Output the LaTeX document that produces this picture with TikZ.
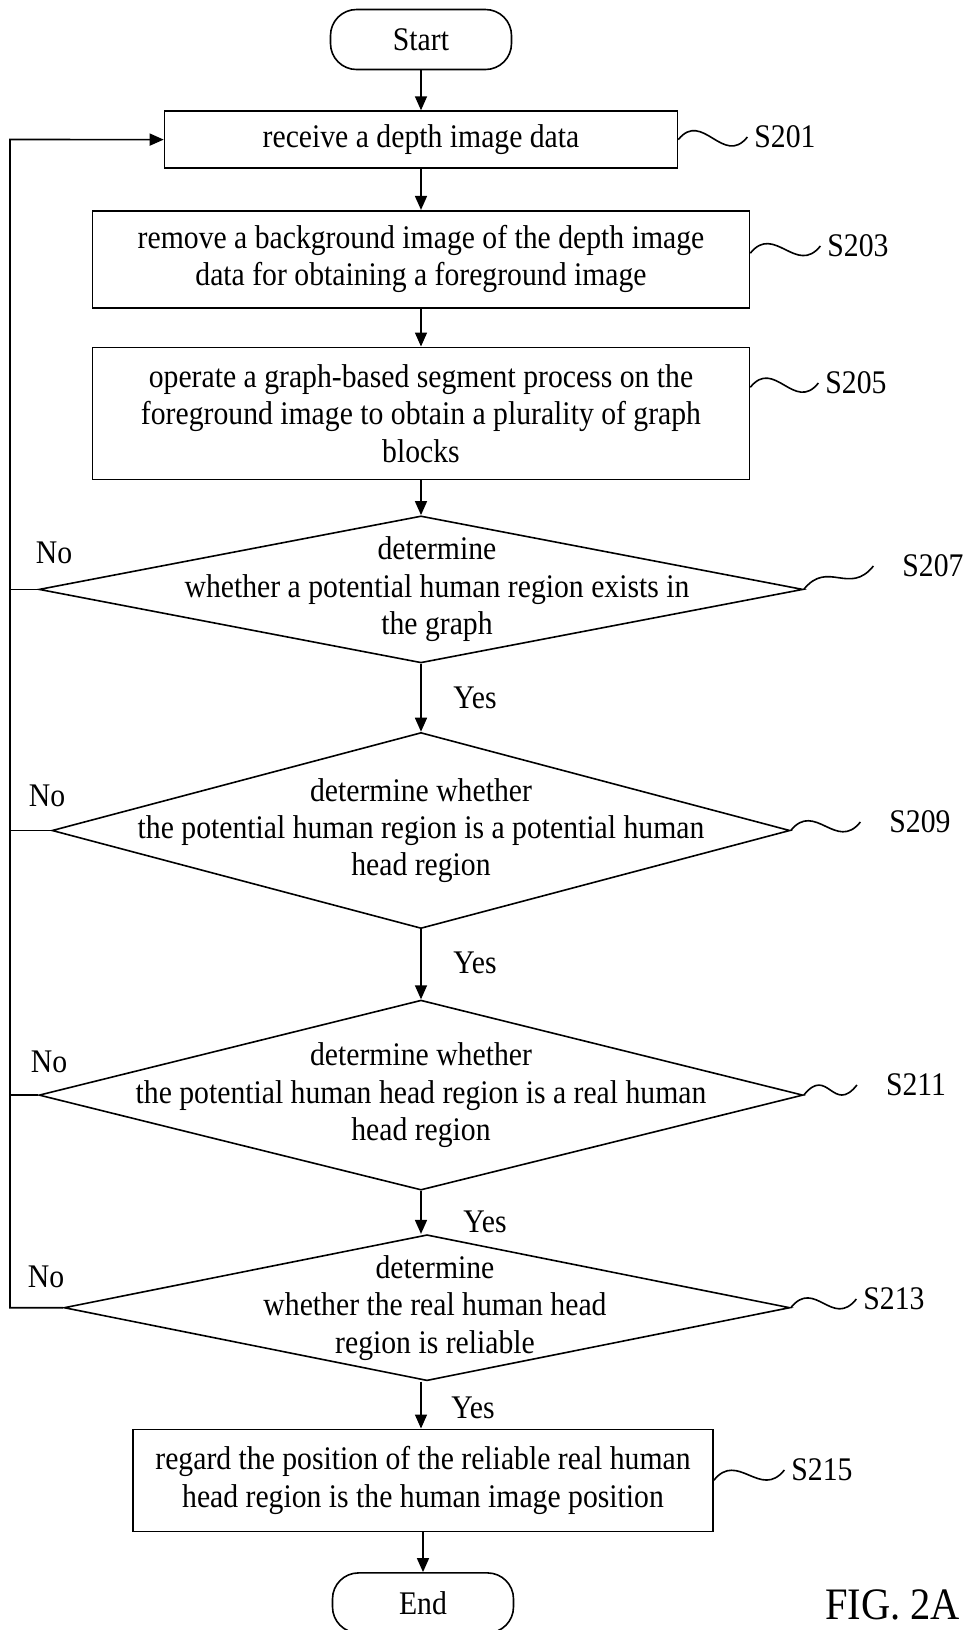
\documentclass[tikz,border=0pt]{standalone}
\usepackage{fontspec}
\setmainfont{Liberation Serif}[FakeStretch=0.9]
\usetikzlibrary{shapes.geometric, arrows.meta, positioning}
\tikzset{
    block/.style={rectangle, draw, line width=0.8pt, align=center, inner sep=2pt},
    term/.style={rectangle, draw, line width=0.8pt, rounded corners=13pt, minimum width=90.5pt, minimum height=30pt},
    decision/.style={diamond, draw, line width=0.8pt, inner sep=0pt},
    qtext/.style={align=center},
    arrow/.style={line width=0.8pt, ->, >={Triangle[length=7pt, width=6pt]}},
    wave/.style={line width=0.8pt, to path={.. controls +(12pt,15pt) and +(-12pt,-15pt) .. (\tikztotarget)}},
    loop/.style={line width=0.8pt},
    yes/.style={right=#1}
}
\begin{document}
\begin{tikzpicture}[x=0.5pt, y=-0.5pt, font=\fontsize{16.5pt}{18.7pt}\selectfont]
        \useasboundingbox (0,0) rectangle (966,1630);

        % main column
        \node (start) [term] at (421,39.5) {Start};
        \node (s201) [block, below=20pt of start, minimum width=256.5pt, minimum height=28.5pt] {receive a depth image data};
        \node (s203) [block, below=20.5pt of s201, minimum width=328.5pt, minimum height=48.5pt] {remove a background image of the depth image\\data for obtaining a foreground image};
        \node (s205) [block, below=19pt of s203, minimum width=328.5pt, minimum height=66pt] {operate a graph-based segment process on the\\foreground image to obtain a plurality of graph\\blocks};
        \node (d207) [decision, below=17.5pt of s205, minimum width=382pt, minimum height=73.5pt] {};
        \node (d209) [decision, below=34pt of d207, minimum width=369pt, minimum height=98pt] {};
        \node (d211) [decision, below=35pt of d209, minimum width=382pt, minimum height=95pt] {};
        \node (d213) [decision, below=21.5pt of d211, xshift=3pt, minimum width=363pt, minimum height=73pt] {};
        \node (s215) [block, below=23.5pt of d213, xshift=-2pt, minimum width=290pt, minimum height=51pt] {regard the position of the reliable real human\\head region is the human image position};
        \node (end) [term, below=20pt of s215] {End};

        % texts of the decisions
        \node (t207) [qtext, xshift=8pt] at (d207) {determine\\whether a potential human region exists in\\the graph};
        \node (t209) [qtext] at (d209) {determine whether\\the potential human region is a potential human\\head region};
        \node (t211) [qtext] at (d211) {determine whether\\the potential human head region is a real human\\head region};
        \node (t213) [qtext, xshift=4pt] at (d213) {determine\\whether the real human head\\region is reliable};

        \draw [arrow] (start) -- (s201);
        \draw [arrow] (s201) -- (s203);
        \draw [arrow] (s203) -- (s205);
        \draw [arrow] (s205) -- (d207);
        \draw [arrow] (d207) -- node[yes=12.5pt] (y207) {Yes} (d209);
        \draw [arrow] (d209) -- node[yes=12.5pt, pos=.48] (y209) {Yes} (d211);
        \draw [arrow] (d211) -- node[yes=17.5pt, pos=.73] (y211) {Yes} (d211 |- d213.north);
        \draw [arrow] (d213.south -| s201) -- node[yes=11.5pt, pos=.55] (y213) {Yes} (s215.north -| s201);
        \draw [arrow] (s215) -- (end);

        % way back
        \coordinate (back) at (10,139.5);
        \draw [arrow] (d213.west) -| (back) -- (s201.west);
        \draw [loop] (d207.west) -- (d207.west -| back);
        \draw [loop] (d209.west) -- (d209.west -| back);
        \draw [loop] (d211.west) -- (d211.west -| back);
        \node (no207) at (54,553) {No};
        \node (no209) at (47,796) {No};
        \node (no211) at (49,1062) {No};
        \node (no213) at (46,1277) {No};

        % step numbers
        \node (l201) at (785,137) {S201};
        \node (l203) at (858,246) {S203};
        \node (l205) at (856,383) {S205};
        \node (l207) at (933,566) {S207};
        \node (l209) at (920,822) {S209};
        \node (l211) at (916,1085) {S211};
        \node (l213) at (894,1299) {S213};
        \node (l215) at (822,1470) {S215};
        \draw [wave] (s201.east) to (l201.west);
        \draw [wave] ([yshift=3pt]s203.east) to (l203.west);
        \draw [wave] ([yshift=13pt]s205.east) to (l205.west);
        \draw [wave] (d207.east) to ([xshift=-11pt]l207.west);
        \draw [wave] (d209.east) to ([xshift=-11pt]l209.west);
        \draw [wave] (d211.east) to ([xshift=-11pt]l211.west);
        \draw [wave] (d213.east) to (l213.west);
        \draw [wave] (s215.east) to (l215.west);

        \node (fig) [anchor=west, font=\fontsize{22.5pt}{25pt}\selectfont] at (818,1605) {FIG. 2A};
    \end{tikzpicture}
\end{document}
